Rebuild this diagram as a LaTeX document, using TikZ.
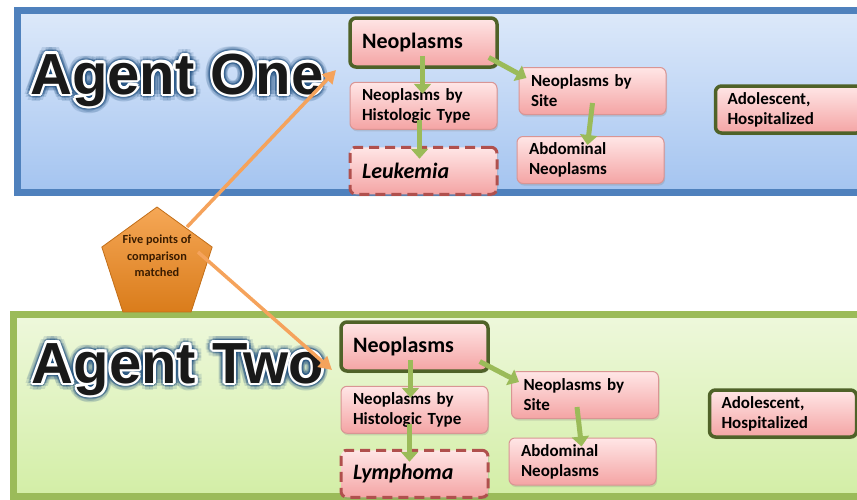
\documentclass[tikz,border=0pt]{standalone}
\usepackage{fontspec}
\usetikzlibrary{positioning,shapes.geometric,arrows.meta,shadows}
\newfontfamily\boxfont{Carlito}
\newfontfamily\agentfont{Liberation Sans}
\definecolor{panelblue}{HTML}{4F81BD}
\definecolor{panelgreen}{HTML}{9BBB59}
\definecolor{onetop}{HTML}{DDE9FA}
\definecolor{onebot}{HTML}{A4C4F0}
\definecolor{twotop}{HTML}{EEF8DC}
\definecolor{twobot}{HTML}{D3EEA6}
\definecolor{keyedge}{HTML}{4F6228}
\definecolor{pinkedge}{HTML}{D99594}
\definecolor{dashedge}{HTML}{B0504D}
\definecolor{pinktop}{HTML}{FFE6E6}
\definecolor{pinkbot}{HTML}{F4A4A4}
\definecolor{arrowgreen}{HTML}{9BBB59}
\definecolor{arroworange}{HTML}{F5A35C}
\definecolor{pentaorange}{HTML}{F28A1E}
\definecolor{pentatext}{HTML}{3A1C00}
\definecolor{glowblue}{HTML}{1F4F80}
\tikzset{concept/.style={
  rectangle,
  rounded corners=6pt,
  draw=pinkedge,
  line width=1pt,
  top color=pinktop,
  bottom color=pinkbot,
  minimum width=147pt,
  minimum height=47pt,
  text width=123pt,
  inner xsep=12pt,
  align=left,
  font=\boxfont\bfseries\fontsize{17}{20}\selectfont,
  drop shadow={shadow xshift=1pt,shadow yshift=-2pt,opacity=0.25},
  },
  keyterm/.style={
  concept,
  draw=keyedge,
  line width=3.5pt,
  },
  bigterm/.style={
  keyterm,
  minimum height=49pt,
  font=\boxfont\bfseries\fontsize{22}{24}\selectfont,
  },
  matchterm/.style={
  concept,
  draw=dashedge,
  line width=3pt,
  dash pattern=on 10pt off 6pt,
  font=\boxfont\bfseries\itshape\fontsize{22}{24}\selectfont,
  },
  greenarrow/.style={
  draw=arrowgreen,
  line width=5pt,
  -{Triangle[length=10pt,width=17pt]},
  },
  orangearrow/.style={
  draw=arroworange,
  line width=3.5pt,
  -{Triangle[length=13pt,width=14pt]},
  },
  agenttext/.style={
  anchor=base,
  inner sep=0pt,
  font=\agentfont\bfseries\fontsize{58}{60}\selectfont,
  },
}
\newcommand{\agenttitle}[3]{%
  \foreach \a in {0,30,...,330} {
    \path (#1) ++(\a:7) node[agenttext,text=glowblue,opacity=0.15] (#2glowa\a) {#3};
    \path (#1) ++(\a:4.5) node[agenttext,text=glowblue,opacity=0.3] (#2glowb\a) {#3};
  }
  \foreach \a in {0,30,...,330} {
    \path (#1) ++(\a:2.5) node[agenttext,text=white] (#2rim\a) {#3};
  }
  \node[agenttext,text=black!90] (#2) at (#1) {#3};
}

\begin{document}
\begin{tikzpicture}[x=1pt,y=-1pt]
\useasboundingbox (0,0) rectangle (857,499);

% agent one panel
\draw[panelblue, line width=7pt, top color=onetop, bottom color=onebot]
  (17,10) rectangle (885,192);
% agent two panel
\draw[panelgreen, line width=7pt, top color=twotop, bottom color=twobot]
  (13,314) rectangle (885,496);

\coordinate (oneat) at (177,94);
\coordinate (twoat) at (178,383);
\agenttitle{oneat}{agentone}{Agent One}
\agenttitle{twoat}{agenttwo}{Agent Two}

% agent one concepts
\node[bigterm]                    (neo1)  at (423.5,42.5) {Neoplasms};
\node[concept, below=13pt of neo1]   (histo1) {Neoplasms by\\Histologic Type};
\node[matchterm, below=16pt of histo1] (leuk1) {Leukemia};
\node[concept]                    (site1) at (592.5,91) {Neoplasms by\\Site};
\node[concept]                    (abd1)  at (590.5,160) {Abdominal\\Neoplasms};
\node[keyterm]                    (adol1) at (789,109.5) {Adolescent,\\Hospitalized};

% agent two concepts
\node[bigterm]                    (neo2)  at (414.5,346.5) {Neoplasms};
\node[concept, below=13pt of neo2]   (histo2) {Neoplasms by\\Histologic Type};
\node[matchterm, below=15pt of histo2] (lymph2) {Lymphoma};
\node[concept]                    (site2) at (585,395) {Neoplasms by\\Site};
\node[concept]                    (abd2)  at (582.5,461.5) {Abdominal\\Neoplasms};
\node[keyterm]                    (adol2) at (783,413.5) {Adolescent,\\Hospitalized};

% hierarchy arrows
\draw[greenarrow] ([xshift=-1pt,yshift=13pt]neo1.south) -- ([xshift=-1pt,yshift=-12pt]histo1.north);
\draw[greenarrow] ([xshift=-4pt,yshift=10pt]histo1.south) -- ([xshift=-4pt,yshift=-13pt]leuk1.north);
\draw[greenarrow] ([xshift=-10pt,yshift=-15pt]neo1.east) -- ([xshift=8pt,yshift=-11pt]site1.north west);
\draw[greenarrow] ([yshift=12pt]site1.south) -- ([xshift=-3pt,yshift=-9pt]abd1.north);

\draw[greenarrow] ([xshift=-4pt,yshift=13pt]neo2.south) -- ([xshift=-4pt,yshift=-12pt]histo2.north);
\draw[greenarrow] ([xshift=-5pt,yshift=10pt]histo2.south) -- ([xshift=-5pt,yshift=-13pt]lymph2.north);
\draw[greenarrow] ([xshift=-10pt,yshift=-15pt]neo2.east) -- ([xshift=8pt,yshift=-11pt]site2.north west);
\draw[greenarrow] ([xshift=-8pt,yshift=12pt]site2.south) -- ([xshift=-1pt,yshift=-9pt]abd2.north);

% comparison pentagon
\node[regular polygon, regular polygon sides=5, minimum size=116pt, inner sep=0pt,
  draw=pentaorange!80!black, line width=0.8pt, top color=pentaorange!75!white, bottom color=pentaorange!90!black]
  (points) at (157,265) {};
\node[align=center, text=pentatext, font=\boxfont\bfseries\fontsize{12.3}{16.5}\selectfont]
  (pointstext) at (157,256) {Five points of\\comparison\\matched};

\coordinate (tipone) at (336,70);
\coordinate (tiptwo) at (332,370);
\draw[orangearrow] ([shift={(30,-38)}]points.center) -- (tipone);
\draw[orangearrow] ([shift={(41,-13)}]points.center) -- (tiptwo);
\end{tikzpicture}
\end{document}
